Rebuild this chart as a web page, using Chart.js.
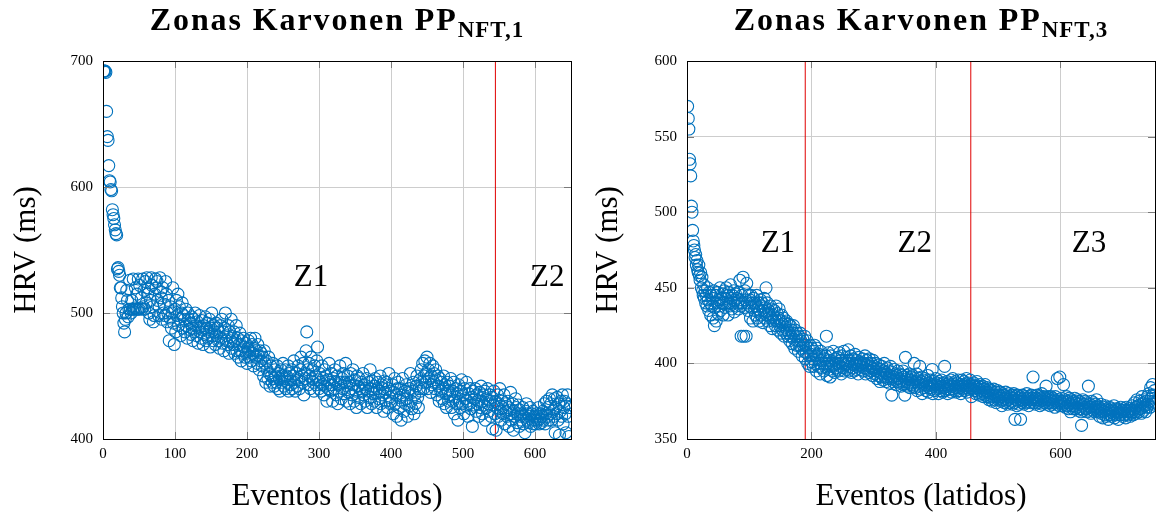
<!DOCTYPE html>
<html>
<head>
<meta charset="utf-8">
<script src="https://cdn.jsdelivr.net/npm/chart.js@4.4.1/dist/chart.umd.min.js"></script>
<style>
  html, body { margin: 0; padding: 0; background: #fff; }
  #wrap { position: relative; width: 1164px; height: 521px; overflow: hidden; }
  canvas { position: absolute; top: 0; }
  .ttl {
    position: absolute; top: 1px; width: 582px; text-align: center;
    font-family: "Liberation Serif", serif; font-weight: bold; font-size: 32px;
    letter-spacing: 1.9px; color: #000; white-space: nowrap;
  }
  .ttl sub { font-size: 23px; letter-spacing: 1px; vertical-align: -7px; }
</style>
</head>
<body>
<div id="wrap">
  <canvas id="chartLeft" width="582" height="521" style="left:0"></canvas>
  <canvas id="chartRight" width="582" height="521" style="left:582px"></canvas>
  <div class="ttl" style="left:46px">Zonas Karvonen PP<sub>NFT,1</sub></div>
  <div class="ttl" style="left:630px">Zonas Karvonen PP<sub>NFT,3</sub></div>
</div>
<script>
// HRV per beat, session NFT,1 (event 1..648)
const hrvNft1 = [
  692, 692, 692, 691, 660, 640, 637, 617, 605, 604, 598, 597, 582, 578, 575, 570, 566, 563, 562, 535,
  536, 533, 530, 520, 520, 512, 505, 500, 492, 485, 495, 500, 518, 510, 497, 503, 526, 503, 500, 510,
  503, 527, 503, 504, 520, 503, 515, 503, 527, 503, 522, 504, 512, 503, 527, 505, 518, 503, 525, 508,
  528, 515, 520, 500, 495, 510, 528, 522, 505, 493, 498, 515, 527, 520, 525, 510, 498, 505, 528, 517,
  512, 495, 520, 500, 507, 498, 525, 515, 493, 500, 510, 478, 496, 505, 488, 500, 520, 492, 475, 503,
  485, 510, 498, 515, 490, 505, 495, 482, 500, 508, 488, 498, 495, 485, 503, 490, 480, 500, 495, 487,
  492, 483, 497, 488, 478, 495, 485, 500, 490, 482, 493, 476, 488, 498, 485, 480, 494, 487, 475, 490,
  483, 497, 478, 488, 492, 480, 485, 495, 473, 488, 500, 482, 478, 490, 485, 475, 492, 482, 488, 478,
  485, 472, 490, 480, 495, 476, 485, 470, 488, 500, 478, 482, 475, 490, 468, 485, 478, 495, 472, 480,
  475, 485, 468, 478, 490, 470, 480, 465, 475, 484, 470, 462, 478, 468, 480, 473, 465, 476, 468, 460,
  472, 478, 465, 470, 480, 462, 475, 468, 458, 472, 480, 465, 470, 460, 475, 466, 455, 470, 462, 468,
  458, 465, 450, 470, 460, 445, 462, 455, 448, 465, 452, 442, 458, 450, 445, 460, 448, 442, 455, 450,
  445, 458, 440, 452, 448, 438, 455, 445, 450, 460, 442, 448, 455, 440, 450, 445, 458, 438, 452, 447,
  443, 455, 440, 450, 462, 445, 438, 452, 448, 442, 458, 447, 440, 455, 465, 450, 445, 460, 435, 452,
  448, 470, 485, 455, 443, 460, 450, 440, 465, 448, 455, 445, 438, 458, 450, 443, 462, 473, 447, 440,
  452, 445, 438, 458, 443, 448, 435, 455, 442, 450, 430, 447, 440, 460, 445, 438, 452, 443, 430, 448,
  440, 455, 445, 435, 450, 428, 443, 438, 458, 445, 432, 448, 440, 452, 436, 445, 460, 430, 442, 450,
  437, 445, 428, 452, 440, 435, 455, 443, 430, 447, 438, 425, 450, 442, 433, 448, 440, 428, 445, 438,
  452, 435, 443, 430, 440, 448, 425, 438, 445, 433, 455, 440, 428, 446, 436, 442, 430, 448, 437, 425,
  440, 445, 432, 438, 450, 428, 443, 435, 440, 422, 446, 437, 430, 445, 425, 440, 452, 433, 428, 438,
  430, 443, 420, 437, 448, 428, 435, 418, 440, 445, 425, 433, 440, 415, 430, 448, 435, 422, 438, 428,
  443, 432, 418, 437, 426, 440, 452, 430, 424, 438, 445, 420, 435, 428, 442, 450, 433, 425, 440, 447,
  438, 455, 445, 460, 440, 450, 462, 445, 452, 465, 440, 455, 448, 460, 437, 450, 443, 458, 445, 452,
  440, 455, 447, 435, 450, 442, 430, 448, 438, 445, 432, 440, 450, 428, 443, 436, 425, 445, 438, 430,
  442, 435, 448, 425, 438, 430, 445, 420, 433, 440, 428, 436, 415, 443, 430, 425, 438, 447, 428, 435,
  420, 440, 432, 426, 445, 430, 418, 436, 428, 440, 424, 433, 410, 438, 427, 432, 440, 422, 435, 428,
  430, 418, 437, 425, 442, 430, 420, 435, 427, 438, 415, 432, 425, 440, 428, 422, 435, 430, 418, 433,
  408, 427, 438, 420, 430, 407, 425, 435, 418, 428, 440, 422, 415, 430, 425, 420, 435, 412, 428, 422,
  418, 430, 425, 410, 423, 437, 415, 420, 428, 407, 422, 418, 432, 425, 413, 420, 427, 410, 423, 418,
  415, 420, 425, 412, 418, 405, 422, 428, 415, 420, 413, 418, 425, 410, 420, 415, 422, 412, 418, 415,
  412, 420, 415, 418, 425, 412, 416, 420, 413, 418, 422, 415, 428, 412, 420, 430, 418, 425, 415, 432,
  420, 428, 415, 435, 422, 418, 432, 405, 425, 420, 433, 415, 428, 403, 422, 430, 418, 435, 412, 425,
  430, 420, 405, 428, 435, 418, 402, 425
];

// HRV per beat, session NFT,3 (event 1..752)
const hrvNft3 = [
  570, 562, 555, 535, 532, 524, 504, 500, 488, 481, 478, 475, 470, 472, 465, 468, 462, 460, 465, 458,
  455, 460, 450, 457, 448, 445, 452, 443, 448, 440, 445, 438, 450, 442, 435, 447, 440, 432, 445, 438,
  443, 430, 448, 425, 437, 445, 428, 440, 447, 433, 442, 438, 450, 435, 443, 440, 446, 432, 440, 448,
  437, 443, 450, 440, 445, 432, 447, 440, 438, 452, 443, 436, 445, 440, 448, 434, 442, 446, 438, 443,
  440, 447, 436, 442, 455, 438, 418, 445, 440, 457, 418, 437, 448, 442, 418, 453, 440, 435, 445, 438,
  442, 430, 445, 437, 440, 428, 443, 435, 440, 432, 438, 445, 430, 436, 440, 428, 435, 442, 432, 438,
  440, 427, 435, 443, 430, 437, 450, 432, 440, 428, 435, 433, 425, 438, 430, 436, 423, 432, 428, 435,
  430, 425, 438, 428, 433, 422, 430, 436, 425, 428, 420, 432, 426, 422, 430, 418, 427, 424, 420, 428,
  422, 418, 426, 420, 415, 425, 418, 422, 413, 420, 425, 416, 410, 422, 418, 412, 420, 415, 408, 418,
  412, 420, 415, 410, 405, 416, 412, 408, 418, 403, 412, 407, 415, 400, 410, 405, 398, 412, 406, 401,
  410, 403, 398, 408, 412, 400, 405, 395, 410, 403, 398, 406, 400, 393, 408, 402, 397, 405, 400, 395,
  403, 398, 405, 418, 392, 400, 407, 396, 402, 391, 405, 398, 400, 395, 408, 399, 394, 403, 397, 400,
  396, 404, 400, 395, 407, 398, 402, 393, 405, 400, 397, 408, 395, 402, 399, 404, 396, 400, 409, 395,
  402, 398, 405, 394, 400, 397, 403, 399, 395, 406, 400, 396, 402, 398, 393, 404, 399, 401, 396, 400,
  398, 403, 395, 400, 397, 405, 393, 399, 402, 396, 400, 394, 403, 398, 395, 400, 397, 392, 402, 396,
  398, 393, 400, 395, 390, 397, 392, 399, 394, 388, 396, 391, 398, 393, 389, 395, 400, 391, 394, 388,
  393, 397, 390, 395, 387, 392, 398, 390, 379, 394, 388, 391, 396, 389, 393, 386, 392, 388, 395, 390,
  387, 393, 389, 385, 392, 388, 395, 386, 391, 379, 404, 388, 392, 385, 390, 387, 393, 384, 389, 391,
  386, 392, 388, 385, 400, 390, 384, 388, 393, 382, 387, 390, 385, 398, 383, 388, 391, 380, 386, 389,
  384, 390, 386, 382, 388, 385, 392, 381, 387, 384, 389, 383, 386, 396, 380, 385, 388, 382, 386, 390,
  383, 387, 385, 380, 388, 384, 386, 382, 389, 385, 381, 387, 384, 398, 382, 386, 383, 388, 380, 385,
  387, 383, 386, 389, 381, 385, 390, 383, 386, 382, 388, 384, 381, 387, 385, 389, 382, 386, 384, 380,
  386, 389, 383, 385, 388, 382, 386, 384, 390, 381, 385, 387, 383, 386, 389, 384, 378, 386, 383, 385,
  387, 382, 385, 380, 384, 388, 381, 385, 383, 379, 386, 382, 384, 380, 385, 378, 383, 381, 386, 379,
  382, 384, 378, 381, 376, 383, 379, 377, 382, 375, 380, 378, 383, 376, 379, 381, 374, 378, 382, 376,
  379, 377, 381, 375, 378, 372, 380, 376, 379, 374, 377, 381, 375, 378, 373, 376, 380, 374, 378, 377,
  375, 379, 373, 377, 380, 374, 363, 378, 376, 372, 379, 375, 377, 373, 378, 363, 376, 374, 379, 375,
  377, 373, 378, 376, 374, 380, 375, 377, 372, 378, 376, 374, 379, 375, 377, 391, 374, 378, 376, 373,
  377, 375, 379, 374, 376, 378, 372, 377, 375, 380, 373, 376, 378, 374, 377, 375, 385, 373, 376, 378,
  374, 377, 372, 376, 378, 375, 373, 377, 374, 376, 371, 378, 375, 373, 390, 376, 374, 372, 391, 375,
  374, 377, 372, 375, 386, 373, 376, 371, 374, 378, 372, 375, 370, 377, 373, 368, 376, 372, 374, 370,
  375, 372, 377, 370, 374, 371, 376, 369, 373, 375, 370, 374, 368, 359, 372, 376, 369, 373, 371, 375,
  370, 374, 368, 372, 385, 369, 373, 371, 367, 375, 372, 369, 374, 370, 368, 373, 371, 376, 369, 372,
  368, 371, 365, 370, 373, 367, 369, 364, 371, 368, 366, 372, 369, 365, 370, 367, 363, 369, 371, 366,
  368, 370, 365, 369, 367, 372, 364, 368, 370, 366, 369, 367, 363, 370, 368, 366, 371, 367, 369, 365,
  368, 370, 366, 369, 364, 371, 367, 369, 366, 368, 370, 365, 369, 367, 372, 368, 366, 370, 374, 368,
  371, 367, 376, 369, 372, 368, 375, 370, 373, 367, 378, 371, 374, 369, 376, 372, 368, 375, 371, 378,
  373, 380, 375, 371, 384, 377, 373, 386, 379, 375, 382, 374
];

// zone boundaries (beat index) and zone label anchors
const zoneEdgesNft1 = [545];
const zoneEdgesNft3 = [190, 456];
const zoneLabelsNft1 = ['Z1', 'Z2'];
const zoneLabelXNft1 = [289, 617];
const zoneLabelYNft1 = 528;
const zoneLabelsNft3 = ['Z1', 'Z2', 'Z3'];
const zoneLabelXNft3 = [146, 366, 646];
const zoneLabelYNft3 = 479;

const xTicksNft1 = [0, 100, 200, 300, 400, 500, 600];
const yTicksNft1 = [400, 500, 600, 700];
const xTicksNft3 = [0, 200, 400, 600];
const yTicksNft3 = [350, 400, 450, 500, 550, 600];

const SERIF = '"Liberation Serif", "Times New Roman", serif';
const BLUE = '#0072BD';
const RED = '#e00000';

// box around the plot area plus inward tick marks on all four sides
const frameBox = {
  id: 'frameBox',
  afterDatasetsDraw(chart) {
    const { ctx, chartArea: a, scales } = chart;
    ctx.save();
    ctx.strokeStyle = '#7a7a7a';
    ctx.lineWidth = 1;
    const tl = 7;
    ctx.beginPath();
    scales.x.ticks.forEach(t => {
      const px = Math.round(scales.x.getPixelForValue(t.value)) + 0.5;
      ctx.moveTo(px, a.top); ctx.lineTo(px, a.top + tl);
      ctx.moveTo(px, a.bottom); ctx.lineTo(px, a.bottom - tl);
    });
    scales.y.ticks.forEach(t => {
      const py = Math.round(scales.y.getPixelForValue(t.value)) + 0.5;
      ctx.moveTo(a.left, py); ctx.lineTo(a.left + tl, py);
      ctx.moveTo(a.right, py); ctx.lineTo(a.right - tl, py);
    });
    ctx.stroke();
    ctx.strokeStyle = '#000';
    ctx.strokeRect(Math.round(a.left) + 0.5, Math.round(a.top) + 0.5,
      Math.round(a.right - a.left), Math.round(a.bottom - a.top));
    ctx.restore();
  }
};

// Z1 / Z2 / Z3 text inside the plot
const zoneText = {
  id: 'zoneText',
  afterDatasetsDraw(chart, args, opts) {
    const { ctx, scales } = chart;
    ctx.save();
    ctx.font = '31px ' + SERIF;
    ctx.fillStyle = '#000';
    ctx.textAlign = 'center';
    ctx.textBaseline = 'middle';
    opts.labels.forEach((txt, i) => {
      ctx.fillText(txt, scales.x.getPixelForValue(opts.xs[i]), scales.y.getPixelForValue(opts.y));
    });
    ctx.restore();
  }
};

function makeChart(id, values, cfg) {
  const points = values.map((v, i) => ({ x: i + 1, y: v }));
  const edgeSets = cfg.edges.map(e => ({
    type: 'line',
    data: [{ x: e, y: cfg.yMin }, { x: e, y: cfg.yMax }],
    borderColor: RED,
    borderWidth: 1,
    pointRadius: 0,
    fill: false
  }));

  return new Chart(document.getElementById(id), {
    type: 'scatter',
    data: {
      datasets: [{
        data: points,
        borderColor: BLUE,
        backgroundColor: 'rgba(0,0,0,0)',
        borderWidth: 1.1,
        pointRadius: 6,
        pointHoverRadius: 6
      }, ...edgeSets]
    },
    options: {
      responsive: false,
      animation: false,
      events: [],
      layout: { padding: { top: 61, right: cfg.padRight, left: 0, bottom: 0 } },
      plugins: {
        legend: { display: false },
        tooltip: { enabled: false },
        zoneText: { labels: cfg.zoneLabels, xs: cfg.zoneXs, y: cfg.zoneY }
      },
      scales: {
        x: {
          type: 'linear',
          min: 0,
          max: cfg.xMax,
          afterBuildTicks: s => { s.ticks = cfg.xTicks.map(v => ({ value: v })); },
          afterFit: s => { s.height = 82; },
          ticks: { font: { family: SERIF, size: 15 }, color: '#000', padding: 6, maxRotation: 0 },
          grid: { color: '#cdcdcd', drawTicks: false },
          border: { color: '#000', width: 1 },
          title: { display: true, text: 'Eventos (latidos)', color: '#000',
                   font: { family: SERIF, size: 31 }, padding: { top: 0, bottom: 6 } }
        },
        y: {
          min: cfg.yMin,
          max: cfg.yMax,
          afterBuildTicks: s => { s.ticks = cfg.yTicks.map(v => ({ value: v })); },
          afterFit: s => { s.width = cfg.yWidth; },
          ticks: { font: { family: SERIF, size: 15 }, color: '#000', padding: 10 },
          grid: { color: '#cdcdcd', drawTicks: false },
          border: { color: '#000', width: 1 },
          title: { display: true, text: 'HRV (ms)', color: '#000',
                   font: { family: SERIF, size: 31 }, padding: { top: 8, bottom: 0 } }
        }
      }
    },
    plugins: [frameBox, zoneText]
  });
}

makeChart('chartLeft', hrvNft1, {
  xMax: 650, yMin: 400, yMax: 700,
  xTicks: xTicksNft1, yTicks: yTicksNft1,
  edges: zoneEdgesNft1,
  zoneLabels: zoneLabelsNft1, zoneXs: zoneLabelXNft1, zoneY: zoneLabelYNft1,
  yWidth: 103, padRight: 11
});

makeChart('chartRight', hrvNft3, {
  xMax: 752, yMin: 350, yMax: 600,
  xTicks: xTicksNft3, yTicks: yTicksNft3,
  edges: zoneEdgesNft3,
  zoneLabels: zoneLabelsNft3, zoneXs: zoneLabelXNft3, zoneY: zoneLabelYNft3,
  yWidth: 105, padRight: 9
});
</script>
</body>
</html>
